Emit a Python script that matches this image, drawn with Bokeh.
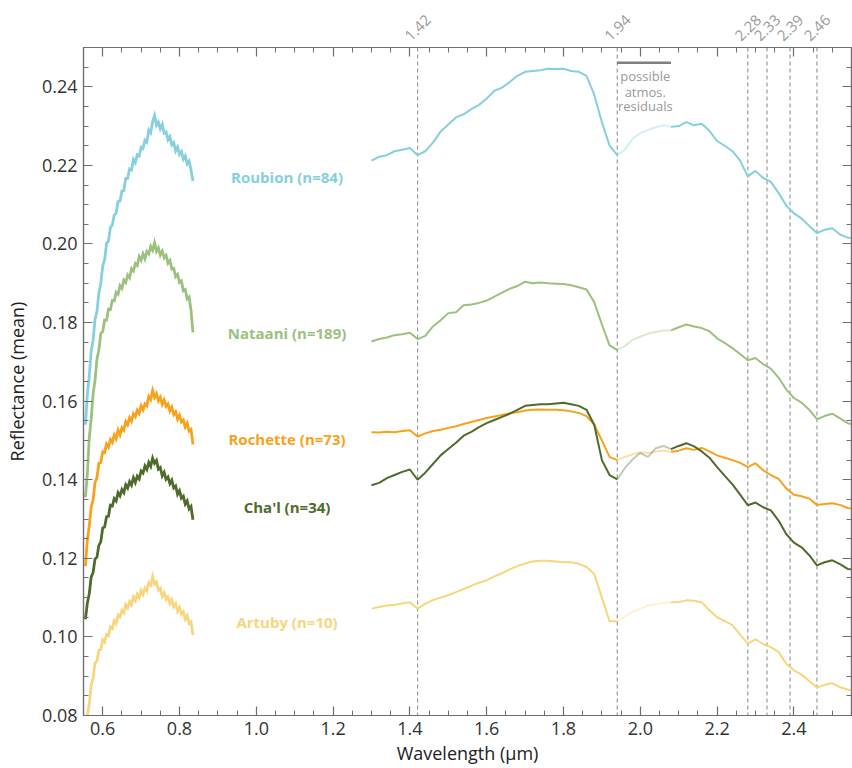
import numpy as np
from bokeh.plotting import figure
from bokeh.models import (Span, Label, LinearAxis, SingleIntervalTicker, FixedTicker,
                          NumeralTickFormatter, CustomJSTickFormatter, Range1d)
from bokeh.embed import file_html
from bokeh.resources import INLINE

FONT = "Open Sans"

# ---- wavelength grids (µm) ----
wl_vnir = np.round(np.arange(0.555, 0.8351, 0.005), 3)
wl_swir = np.append(np.round(np.arange(1.30, 2.5401, 0.02), 2), 2.55)

# ---- unit names, sample counts, colours ----
names = ["Roubion", "Nataani", "Rochette", "Cha'l", "Artuby"]
counts = [84, 189, 73, 34, 10]
colors = ["#86cfdc", "#9cc17f", "#f8a21c", "#4e6b2c", "#f8d67e"]
label_x = 1.08
label_y = [0.2171, 0.1773, 0.1503, 0.1330, 0.1037]

# ---- mean VNIR reflectance ----
roubion_vnir = [
    0.1540, 0.1616, 0.1664, 0.1727, 0.1755, 0.1808, 0.1828, 0.1875, 0.1899, 0.1944,
    0.1960, 0.2001, 0.2007, 0.2042, 0.2048, 0.2074, 0.2078, 0.2108, 0.2109, 0.2135,
    0.2136, 0.2167, 0.2167, 0.2191, 0.2188, 0.2215, 0.2207, 0.2227, 0.2224, 0.2246,
    0.2243, 0.2264, 0.2259, 0.2290, 0.2283, 0.2311, 0.2327, 0.2302, 0.2310, 0.2293,
    0.2304, 0.2282, 0.2285, 0.2265, 0.2273, 0.2252, 0.2258, 0.2237, 0.2247, 0.2228,
    0.2235, 0.2216, 0.2224, 0.2204, 0.2211, 0.2188, 0.2160]
nataani_vnir = [
    0.1355, 0.1415, 0.1507, 0.1554, 0.1618, 0.1653, 0.1706, 0.1730, 0.1772, 0.1777,
    0.1806, 0.1806, 0.1834, 0.1833, 0.1856, 0.1855, 0.1877, 0.1872, 0.1894, 0.1887,
    0.1908, 0.1902, 0.1921, 0.1914, 0.1937, 0.1931, 0.1950, 0.1945, 0.1968, 0.1959,
    0.1975, 0.1962, 0.1981, 0.1975, 0.1994, 0.1984, 0.2003, 0.1981, 0.1990, 0.1972,
    0.1982, 0.1965, 0.1971, 0.1951, 0.1958, 0.1936, 0.1938, 0.1917, 0.1923, 0.1902,
    0.1906, 0.1881, 0.1884, 0.1860, 0.1865, 0.1831, 0.1775]
rochette_vnir = [
    0.1180, 0.1246, 0.1283, 0.1330, 0.1349, 0.1393, 0.1405, 0.1442, 0.1444, 0.1471,
    0.1469, 0.1491, 0.1483, 0.1502, 0.1495, 0.1514, 0.1504, 0.1526, 0.1514, 0.1532,
    0.1526, 0.1548, 0.1540, 0.1558, 0.1549, 0.1568, 0.1561, 0.1577, 0.1569, 0.1588,
    0.1578, 0.1593, 0.1588, 0.1612, 0.1604, 0.1627, 0.1609, 0.1619, 0.1601, 0.1610,
    0.1592, 0.1603, 0.1587, 0.1593, 0.1575, 0.1585, 0.1566, 0.1573, 0.1554, 0.1564,
    0.1547, 0.1552, 0.1534, 0.1544, 0.1524, 0.1528, 0.1490]
chal_vnir = [
    0.1045, 0.1086, 0.1110, 0.1152, 0.1164, 0.1198, 0.1203, 0.1233, 0.1242, 0.1277,
    0.1280, 0.1306, 0.1307, 0.1335, 0.1333, 0.1352, 0.1346, 0.1367, 0.1359, 0.1375,
    0.1367, 0.1387, 0.1379, 0.1395, 0.1386, 0.1405, 0.1393, 0.1409, 0.1402, 0.1422,
    0.1417, 0.1435, 0.1426, 0.1444, 0.1434, 0.1455, 0.1442, 0.1449, 0.1427, 0.1431,
    0.1410, 0.1419, 0.1401, 0.1407, 0.1390, 0.1399, 0.1379, 0.1384, 0.1363, 0.1372,
    0.1353, 0.1358, 0.1338, 0.1346, 0.1326, 0.1332, 0.1298]
artuby_vnir = [
    0.0765, 0.0800, 0.0829, 0.0877, 0.0895, 0.0933, 0.0939, 0.0966, 0.0968, 0.0993,
    0.0987, 0.1006, 0.1003, 0.1025, 0.1021, 0.1041, 0.1034, 0.1056, 0.1051, 0.1068,
    0.1061, 0.1082, 0.1074, 0.1090, 0.1082, 0.1102, 0.1093, 0.1109, 0.1100, 0.1118,
    0.1108, 0.1124, 0.1117, 0.1138, 0.1132, 0.1154, 0.1135, 0.1140, 0.1119, 0.1124,
    0.1103, 0.1112, 0.1096, 0.1102, 0.1085, 0.1095, 0.1077, 0.1084, 0.1065, 0.1075,
    0.1058, 0.1064, 0.1045, 0.1054, 0.1034, 0.1038, 0.1005]

# ---- mean SWIR reflectance ----
roubion_swir = [
    0.2212, 0.2222, 0.2226, 0.2236, 0.2240, 0.2244, 0.2226, 0.2236, 0.2258, 0.2286,
    0.2304, 0.2322, 0.2330, 0.2343, 0.2354, 0.2370, 0.2390, 0.2398, 0.2412, 0.2428,
    0.2438, 0.2440, 0.2442, 0.2446, 0.2445, 0.2446, 0.2440, 0.2438, 0.2428, 0.2380,
    0.2310, 0.2250, 0.2226, 0.2240, 0.2268, 0.2282, 0.2290, 0.2297, 0.2302, 0.2298,
    0.2300, 0.2310, 0.2302, 0.2306, 0.2288, 0.2262, 0.2250, 0.2236, 0.2212, 0.2172,
    0.2186, 0.2168, 0.2158, 0.2130, 0.2098, 0.2078, 0.2065, 0.2046, 0.2028, 0.2036,
    0.2040, 0.2024, 0.2016, 0.2016]
nataani_swir = [
    0.1752, 0.1758, 0.1762, 0.1768, 0.1770, 0.1774, 0.1758, 0.1766, 0.1790, 0.1806,
    0.1824, 0.1826, 0.1844, 0.1846, 0.1850, 0.1856, 0.1866, 0.1876, 0.1886, 0.1893,
    0.1904, 0.1900, 0.1902, 0.1900, 0.1899, 0.1898, 0.1895, 0.1890, 0.1884, 0.1852,
    0.1795, 0.1742, 0.1730, 0.1740, 0.1756, 0.1764, 0.1772, 0.1776, 0.1780, 0.1780,
    0.1788, 0.1795, 0.1790, 0.1786, 0.1778, 0.1760, 0.1748, 0.1735, 0.1720, 0.1704,
    0.1710, 0.1694, 0.1683, 0.1660, 0.1630, 0.1608, 0.1596, 0.1578, 0.1554, 0.1562,
    0.1568, 0.1556, 0.1544, 0.1542]
rochette_swir = [
    0.1521, 0.1520, 0.1522, 0.1521, 0.1524, 0.1526, 0.1510, 0.1518, 0.1524, 0.1527,
    0.1532, 0.1536, 0.1542, 0.1547, 0.1552, 0.1557, 0.1561, 0.1565, 0.1569, 0.1572,
    0.1576, 0.1578, 0.1579, 0.1578, 0.1578, 0.1577, 0.1574, 0.1570, 0.1562, 0.1540,
    0.1500, 0.1458, 0.1450, 0.1458, 0.1465, 0.1470, 0.1468, 0.1472, 0.1474, 0.1471,
    0.1474, 0.1480, 0.1476, 0.1481, 0.1472, 0.1462, 0.1456, 0.1450, 0.1443, 0.1432,
    0.1442, 0.1424, 0.1412, 0.1402, 0.1378, 0.1362, 0.1358, 0.1352, 0.1336, 0.1338,
    0.1340, 0.1336, 0.1328, 0.1327]
chal_swir = [
    0.1386, 0.1392, 0.1404, 0.1412, 0.1420, 0.1426, 0.1400, 0.1418, 0.1440, 0.1462,
    0.1478, 0.1494, 0.1512, 0.1522, 0.1534, 0.1544, 0.1552, 0.1560, 0.1568, 0.1578,
    0.1588, 0.1590, 0.1592, 0.1592, 0.1594, 0.1596, 0.1592, 0.1588, 0.1578, 0.1540,
    0.1450, 0.1412, 0.1401, 0.1430, 0.1452, 0.1468, 0.1458, 0.1480, 0.1486, 0.1478,
    0.1486, 0.1493, 0.1485, 0.1472, 0.1456, 0.1432, 0.1410, 0.1388, 0.1362, 0.1335,
    0.1342, 0.1330, 0.1322, 0.1296, 0.1262, 0.1240, 0.1228, 0.1208, 0.1182, 0.1190,
    0.1195, 0.1185, 0.1173, 0.1172]
artuby_swir = [
    0.1072, 0.1076, 0.1080, 0.1082, 0.1085, 0.1088, 0.1072, 0.1084, 0.1094, 0.1100,
    0.1106, 0.1114, 0.1122, 0.1130, 0.1138, 0.1144, 0.1154, 0.1162, 0.1172, 0.1180,
    0.1187, 0.1192, 0.1194, 0.1194, 0.1192, 0.1190, 0.1190, 0.1186, 0.1178, 0.1160,
    0.1100, 0.1040, 0.1040, 0.1052, 0.1064, 0.1072, 0.1080, 0.1083, 0.1086, 0.1088,
    0.1089, 0.1093, 0.1092, 0.1088, 0.1068, 0.1050, 0.1040, 0.1030, 0.1006, 0.0983,
    0.0994, 0.0982, 0.0974, 0.0962, 0.0932, 0.0915, 0.0904, 0.0888, 0.0871, 0.0878,
    0.0882, 0.0872, 0.0866, 0.0864]

vnir = [roubion_vnir, nataani_vnir, rochette_vnir, chal_vnir, artuby_vnir]
swir = [roubion_swir, nataani_swir, rochette_swir, chal_swir, artuby_swir]

# ---- absorption features and the atmospheric-residual window ----
band_centers = [1.42, 1.94, 2.28, 2.33, 2.39, 2.46]
atmos_start, atmos_end = 1.94, 2.08
atmos_bar_y = 0.2461
atmos_text = ["possible", "atmos.", "residuals"]
atmos_text_y = [0.2428, 0.2387, 0.2352]

X_START, X_END = 0.55, 2.55
p = figure(width=852, height=768, x_range=(X_START, X_END), y_range=(0.08, 0.25),
           output_backend="svg", toolbar_location=None,
           min_border_left=83, min_border_right=1, min_border_top=47,
           min_border_bottom=53,
           x_axis_label="Wavelength (µm)", y_axis_label="Reflectance (mean)")
p.xgrid.visible = False
p.ygrid.visible = False
p.outline_line_color = "#6e6e6e"
p.outline_line_width = 1.2
p.background_fill_color = "white"
p.border_fill_color = "white"

bottom_ax = p.xaxis[0]
left_ax = p.yaxis[0]

xt = SingleIntervalTicker(interval=0.2, num_minor_ticks=4)
yt = SingleIntervalTicker(interval=0.02, num_minor_ticks=4)
bottom_ax.ticker = xt
left_ax.ticker = yt
bottom_ax.formatter = NumeralTickFormatter(format="0.0")
left_ax.formatter = NumeralTickFormatter(format="0.00")

# tick-only frame axes on top and right
top_ax = LinearAxis(ticker=xt, formatter=CustomJSTickFormatter(code="return ''"))
right_ax = LinearAxis(ticker=yt, formatter=CustomJSTickFormatter(code="return ''"))
p.add_layout(top_ax, "above")
p.add_layout(right_ax, "right")


def style_axis(ax):
    ax.axis_line_color = "#6e6e6e"
    ax.axis_line_width = 1.2
    ax.major_tick_line_color = "#6e6e6e"
    ax.minor_tick_line_color = "#6e6e6e"
    ax.major_tick_line_width = 1.2
    ax.minor_tick_line_width = 1
    ax.major_tick_in = 9
    ax.major_tick_out = 0
    ax.minor_tick_in = 5
    ax.minor_tick_out = 0
    ax.major_label_text_font = FONT
    ax.major_label_text_font_size = "18px"
    ax.major_label_text_color = "#333333"
    ax.axis_label_text_font = FONT
    ax.axis_label_text_font_size = "18px"
    ax.axis_label_text_font_style = "normal"
    ax.axis_label_text_color = "#222222"


for ax in [bottom_ax, left_ax, top_ax, right_ax]:
    style_axis(ax)
bottom_ax.major_label_standoff = 6
bottom_ax.axis_label_standoff = 3
left_ax.major_label_standoff = 6
left_ax.axis_label_standoff = 10
top_ax.major_label_standoff = 0
right_ax.major_label_standoff = 0

# rotated wavelength labels for the absorption features, above the frame;
# the label range is nudged by a few pixels so each label sits centred on its guide
label_nudge = 10 / 768 * (X_END - X_START)
p.extra_x_ranges = {"band_labels": Range1d(X_START + label_nudge, X_END + label_nudge)}
band_ax = LinearAxis(x_range_name="band_labels",
                     ticker=FixedTicker(ticks=band_centers),
                     formatter=NumeralTickFormatter(format="0.00"),
                     major_label_orientation=np.pi / 4)
band_ax.axis_line_color = None
band_ax.major_tick_line_color = None
band_ax.minor_tick_line_color = None
band_ax.major_label_standoff = 3
band_ax.major_label_text_font = FONT
band_ax.major_label_text_font_size = "15px"
band_ax.major_label_text_color = "#9a9a9a"
p.add_layout(band_ax, "above")

# dashed guides at the absorption features
for xc in band_centers:
    p.add_layout(Span(location=xc, dimension="height", line_color="#9a9a9a",
                      line_dash="4 3", line_width=1.2, level="underlay"))

# spectra: VNIR, then SWIR with the residual window drawn faded
solid_a = wl_swir <= atmos_start + 1e-9
faded = (wl_swir >= atmos_start - 1e-9) & (wl_swir <= atmos_end + 1e-9)
solid_b = wl_swir >= atmos_end - 1e-9
for name, n, c, vn, sw, ly in zip(names, counts, colors, vnir, swir, label_y):
    sw = np.array(sw)
    p.line(wl_vnir, vn, line_color=c, line_width=2.8, line_join="miter")
    p.line(wl_swir[solid_a], sw[solid_a], line_color=c, line_width=2)
    p.line(wl_swir[faded], sw[faded], line_color=c, line_width=2, line_alpha=0.35)
    p.line(wl_swir[solid_b], sw[solid_b], line_color=c, line_width=2)
    p.add_layout(Label(x=label_x, y=ly, text=f"{name} (n={n})", text_align="center",
                       text_baseline="middle", text_font=FONT, text_font_size="15px",
                       text_font_style="bold", text_color=c))

# residual window marker and note
p.segment(x0=[atmos_start], x1=[atmos_end], y0=[atmos_bar_y], y1=[atmos_bar_y],
          line_color="#808080", line_width=2.5)
for t, ty in zip(atmos_text, atmos_text_y):
    p.add_layout(Label(x=(atmos_start + atmos_end) / 2 + 0.003, y=ty, text=t,
                       text_align="center", text_baseline="middle", text_font=FONT,
                       text_font_size="13px", text_color="#9a9a9a"))

open("out.html", "w").write(file_html(p, INLINE))
